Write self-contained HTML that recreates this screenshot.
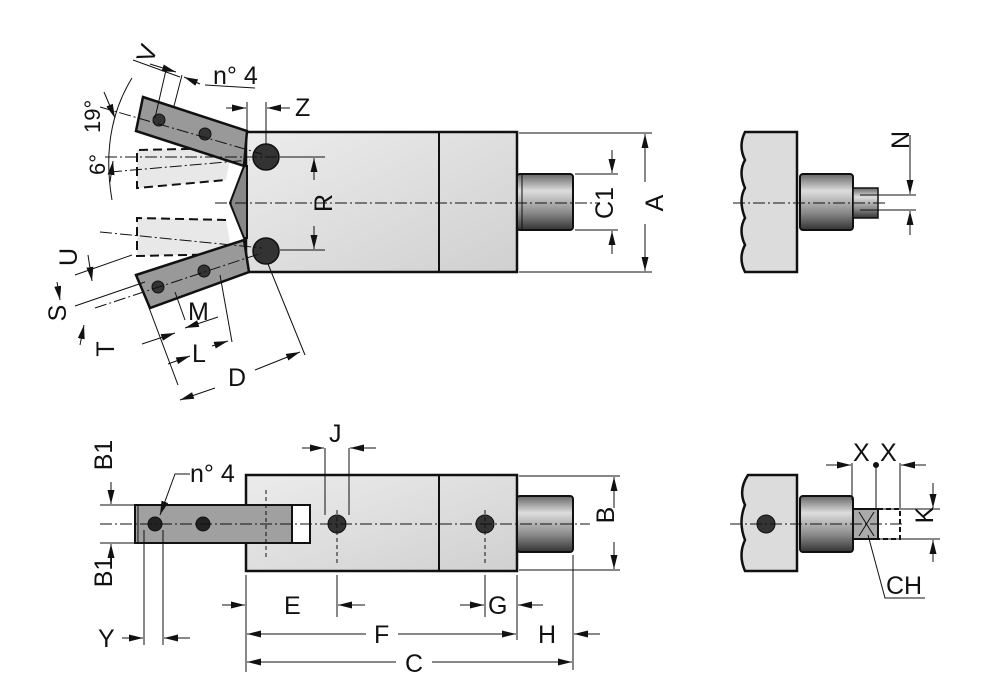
<!DOCTYPE html>
<html><head><meta charset="utf-8"><style>
html,body{margin:0;padding:0;background:#fff;}
svg{display:block;font-family:"Liberation Sans",sans-serif;}
</style></head><body>
<svg width="991" height="700" viewBox="0 0 991 700" xmlns="http://www.w3.org/2000/svg">
<defs>
<marker id="a" viewBox="0 0 14 7" refX="14" refY="3.5" markerWidth="14" markerHeight="7" orient="auto-start-reverse" markerUnits="userSpaceOnUse"><path d="M0,0L14,3.5L0,7z" fill="#111"/></marker>
<linearGradient id="sh" x1="0" y1="0" x2="0" y2="1"><stop offset="0" stop-color="#666"/><stop offset="0.3" stop-color="#ddd"/><stop offset="0.7" stop-color="#888"/><stop offset="1" stop-color="#333"/></linearGradient>
<linearGradient id="bd" x1="0" y1="0" x2="1" y2="1"><stop offset="0" stop-color="#ececec"/><stop offset="1" stop-color="#d0d0d0"/></linearGradient>
</defs>
<g stroke="#111" fill="none">
<rect x="246" y="132" width="271" height="140" fill="url(#bd)" stroke-width="2.5"/>
<line x1="439" y1="132" x2="439" y2="272" stroke-width="2"/>
<rect x="517" y="174" width="56" height="56" rx="3" fill="url(#sh)" stroke-width="2"/>
<line x1="522" y1="174" x2="522" y2="230"/>
<g stroke-dasharray="9,5" stroke-width="2" fill="#e8e8e8">
<path d="M232,148 L137,150 L137,188 L226,180" />
<path d="M226,220 L137,218 L137,256 L232,254"/>
</g>
<polygon points="244,166 230,203 244,238 247,238 247,166" fill="#888" stroke-width="2"/>
<polygon points="143,97 247,131 244,166 136,131" fill="#999" stroke-width="2.5"/>
<polygon points="136,275 244,240 249,272 150,308" fill="#999" stroke-width="2.5"/>
<circle cx="266" cy="157" r="13" fill="#333" stroke-width="1.5"/>
<circle cx="266" cy="251" r="13" fill="#333" stroke-width="1.5"/>
<circle cx="159" cy="120" r="6" fill="#333"/><circle cx="205" cy="134" r="6" fill="#333"/>
<circle cx="158" cy="287" r="6" fill="#333"/><circle cx="204" cy="271" r="6" fill="#333"/>
<g stroke-width="1" stroke-dasharray="12,3,2,3">
<line x1="215" y1="203" x2="600" y2="203"/>
<line x1="105" y1="157" x2="320" y2="157"/>
<line x1="100" y1="107" x2="262" y2="154"/>
<line x1="110" y1="172" x2="250" y2="160"/>
<line x1="100" y1="232" x2="262" y2="248"/>
<line x1="95" y1="308" x2="262" y2="253"/>
</g>
<g stroke-width="1">
<line x1="280" y1="157" x2="325" y2="157"/><line x1="280" y1="250" x2="325" y2="250"/>
<line x1="314" y1="180" x2="314" y2="158" marker-end="url(#a)"/><line x1="314" y1="226" x2="314" y2="249" marker-end="url(#a)"/>
<line x1="247" y1="102" x2="247" y2="130"/><line x1="266" y1="102" x2="266" y2="144"/>
<line x1="226" y1="108" x2="246" y2="108" marker-end="url(#a)"/><line x1="290" y1="108" x2="267" y2="108" marker-end="url(#a)"/>
<line x1="519" y1="133" x2="652" y2="133"/><line x1="519" y1="272" x2="652" y2="272"/>
<line x1="645" y1="182" x2="645" y2="134" marker-end="url(#a)"/><line x1="645" y1="224" x2="645" y2="271" marker-end="url(#a)"/>
<line x1="575" y1="174" x2="618" y2="174"/><line x1="575" y1="230" x2="618" y2="230"/>
<line x1="612" y1="150" x2="612" y2="173" marker-end="url(#a)"/><line x1="612" y1="254" x2="612" y2="231" marker-end="url(#a)"/>
<path d="M132,78 Q100,130 112,200"/>
<line x1="104" y1="92" x2="115" y2="118" marker-end="url(#a)"/>
<line x1="110" y1="182" x2="113" y2="161" marker-end="url(#a)"/>
<line x1="133" y1="60" x2="180" y2="77"/>
<line x1="150" y1="64" x2="176" y2="72" marker-end="url(#a)"/>
<line x1="200" y1="84" x2="184" y2="77" marker-end="url(#a)"/>
<line x1="166" y1="70" x2="155" y2="118"/><line x1="182" y1="75" x2="174" y2="106"/>
<line x1="205" y1="85" x2="255" y2="88"/>
<line x1="75" y1="275" x2="132" y2="255"/><line x1="75" y1="306" x2="145" y2="282"/>
<line x1="80" y1="345" x2="84" y2="325" marker-end="url(#a)"/>
<line x1="57" y1="282" x2="60" y2="300" marker-end="url(#a)"/>
<line x1="88" y1="255" x2="92" y2="281" marker-end="url(#a)"/>
<line x1="148" y1="305" x2="178" y2="385"/><line x1="175" y1="292" x2="185" y2="320"/>
<line x1="220" y1="275" x2="232" y2="342"/><line x1="268" y1="264" x2="305" y2="355"/>
<line x1="142" y1="344" x2="175" y2="333" marker-end="url(#a)"/>
<line x1="218" y1="317" x2="185" y2="328" marker-end="url(#a)"/>
<line x1="168" y1="364" x2="190" y2="356" marker-end="url(#a)"/>
<line x1="212" y1="346" x2="228" y2="341" marker-end="url(#a)"/>
<line x1="215" y1="388" x2="180" y2="400" marker-end="url(#a)"/>
<line x1="255" y1="370" x2="300" y2="352" marker-end="url(#a)"/>
</g>
<path d="M745,132 L797,132 L797,272 L745,272 Q738,258 745,245 Q738,230 745,218 Q738,200 745,188 Q738,172 745,160 Q738,146 745,132z" fill="#dcdcdc" stroke-width="2.5"/>
<rect x="800" y="174" width="53" height="56" rx="3" fill="url(#sh)" stroke-width="2"/>
<rect x="853" y="188" width="25" height="30" fill="url(#sh)" stroke-width="1.5"/>
<line x1="733" y1="203" x2="885" y2="203" stroke-width="1" stroke-dasharray="12,3,2,3"/>
<g stroke-width="1"><line x1="860" y1="195" x2="916" y2="195"/><line x1="860" y1="210" x2="916" y2="210"/>
<line x1="910" y1="135" x2="910" y2="194" marker-end="url(#a)"/><line x1="910" y1="235" x2="910" y2="211" marker-end="url(#a)"/></g>
<rect x="246" y="475" width="271" height="96" fill="url(#bd)" stroke-width="2.5"/>
<line x1="439" y1="475" x2="439" y2="571" stroke-width="2"/>
<rect x="517" y="496" width="56" height="56" rx="3" fill="url(#sh)" stroke-width="2"/>
<rect x="135" y="505" width="175" height="38" fill="#a0a0a0" stroke-width="2"/>
<rect x="292" y="505" width="18" height="38" fill="#fff" stroke-width="2"/>
<line x1="138" y1="505" x2="138" y2="543"/>
<circle cx="155" cy="524" r="7" fill="#222"/><circle cx="203" cy="524" r="7" fill="#222"/>
<circle cx="337" cy="524" r="9" fill="#333"/><circle cx="485" cy="524" r="9" fill="#333"/>
<line x1="100" y1="524" x2="590" y2="524" stroke-width="1" stroke-dasharray="12,3,2,3"/>
<g stroke-width="1" stroke-dasharray="4,3"><line x1="337" y1="510" x2="337" y2="565"/><line x1="485" y1="510" x2="485" y2="565"/><line x1="266" y1="490" x2="266" y2="560"/></g>
<g stroke-width="1">
<line x1="325" y1="448" x2="325" y2="515"/><line x1="349" y1="448" x2="349" y2="515"/>
<line x1="302" y1="448" x2="324" y2="448" marker-end="url(#a)"/><line x1="376" y1="448" x2="350" y2="448" marker-end="url(#a)"/>
<line x1="100" y1="505" x2="135" y2="505"/><line x1="100" y1="543" x2="135" y2="543"/>
<line x1="111" y1="482" x2="111" y2="504" marker-end="url(#a)"/><line x1="111" y1="564" x2="111" y2="544" marker-end="url(#a)"/>
<path d="M190,474 L175,474 L160,515" marker-end="url(#a)"/>
<line x1="144" y1="530" x2="144" y2="645"/><line x1="163" y1="530" x2="163" y2="645"/>
<line x1="122" y1="638" x2="143" y2="638" marker-end="url(#a)"/><line x1="190" y1="638" x2="164" y2="638" marker-end="url(#a)"/>
<line x1="246" y1="575" x2="246" y2="672"/><line x1="337" y1="575" x2="337" y2="617"/>
<line x1="485" y1="575" x2="485" y2="617"/><line x1="517" y1="575" x2="517" y2="640"/><line x1="573" y1="555" x2="573" y2="670"/>
<line x1="222" y1="605" x2="245" y2="605" marker-end="url(#a)"/><line x1="365" y1="605" x2="338" y2="605" marker-end="url(#a)"/>
<line x1="460" y1="605" x2="484" y2="605" marker-end="url(#a)"/><line x1="543" y1="605" x2="518" y2="605" marker-end="url(#a)"/>
<line x1="366" y1="634" x2="247" y2="634" marker-end="url(#a)"/><line x1="398" y1="634" x2="516" y2="634" marker-end="url(#a)"/>
<line x1="600" y1="634" x2="574" y2="634" marker-end="url(#a)"/>
<line x1="396" y1="662" x2="247" y2="662" marker-end="url(#a)"/><line x1="432" y1="662" x2="572" y2="662" marker-end="url(#a)"/>
<line x1="519" y1="476" x2="620" y2="476"/><line x1="519" y1="570" x2="620" y2="570"/>
<line x1="614" y1="508" x2="614" y2="477" marker-end="url(#a)"/><line x1="614" y1="542" x2="614" y2="569" marker-end="url(#a)"/>
</g>
<path d="M748,475 L797,475 L797,571 L745,571 Q738,555 745,540 Q738,522 745,505 Q738,490 748,475z" fill="#dcdcdc" stroke-width="2.5"/>
<rect x="800" y="496" width="53" height="56" rx="3" fill="url(#sh)" stroke-width="2"/>
<rect x="853" y="509" width="25" height="30" fill="#aaa" stroke-width="2"/>
<path d="M859,512 L874,536 M874,512 L859,536" stroke-width="1"/>
<path d="M878,509 L900,509 L900,539 L878,539" stroke-dasharray="5,3" stroke-width="2"/>
<circle cx="766" cy="524" r="9" fill="#333"/>
<line x1="730" y1="524" x2="905" y2="524" stroke-width="1" stroke-dasharray="12,3,2,3"/>
<g stroke-width="1">
<line x1="852" y1="463" x2="852" y2="500"/><line x1="876" y1="463" x2="876" y2="510"/><line x1="900" y1="463" x2="900" y2="508"/>
<circle cx="876" cy="465" r="2.5" fill="#111"/>
<line x1="826" y1="465" x2="851" y2="465" marker-end="url(#a)"/><line x1="926" y1="465" x2="901" y2="465" marker-end="url(#a)"/>
<line x1="880" y1="509" x2="940" y2="509"/><line x1="880" y1="539" x2="940" y2="539"/>
<line x1="933" y1="483" x2="933" y2="508" marker-end="url(#a)"/><line x1="933" y1="562" x2="933" y2="540" marker-end="url(#a)"/>
<path d="M868,535 L885,598 L925,598"/>
</g>
</g>
<g fill="#111" font-size="25">
<text x="138" y="60" transform="rotate(-70 148 52)">V</text>
<text x="213" y="84">n° 4</text>
<text x="295" y="116">Z</text>
<text x="100" y="133" transform="rotate(-90 100 133)" font-size="22">19°</text>
<text x="105" y="175" transform="rotate(-90 105 175)" font-size="22">6°</text>
<text x="323" y="212" transform="rotate(-90 323 203)" text-anchor="middle">R</text>
<text x="604" y="212" transform="rotate(-90 604 203)" text-anchor="middle">C1</text>
<text x="654" y="212" transform="rotate(-90 654 203)" text-anchor="middle">A</text>
<text x="909" y="152" transform="rotate(-90 903 146)" text-anchor="middle">N</text>
<text x="84" y="264" transform="rotate(-90 77 264)" text-anchor="middle">U</text>
<text x="73" y="320" transform="rotate(-90 66 320)" text-anchor="middle">S</text>
<text x="120" y="355" transform="rotate(-90 114 355)" text-anchor="middle">T</text>
<text x="188" y="320">M</text>
<text x="192" y="362">L</text>
<text x="228" y="386">D</text>
<text x="329" y="442">J</text>
<text x="190" y="482">n° 4</text>
<text x="120" y="463" transform="rotate(-90 112 463)" text-anchor="middle">B1</text>
<text x="120" y="580" transform="rotate(-90 112 580)" text-anchor="middle">B1</text>
<text x="623" y="524" transform="rotate(-90 614 524)" text-anchor="middle">B</text>
<text x="284" y="614">E</text>
<text x="488" y="614">G</text>
<text x="98" y="647">Y</text>
<text x="374" y="643">F</text>
<text x="538" y="643">H</text>
<text x="405" y="672">C</text>
<text x="853" y="461">X</text>
<text x="880" y="461">X</text>
<text x="942" y="524" transform="rotate(-90 933 524)" text-anchor="middle">K</text>
<text x="886" y="594">CH</text>
</g>
</svg>
</body></html>
